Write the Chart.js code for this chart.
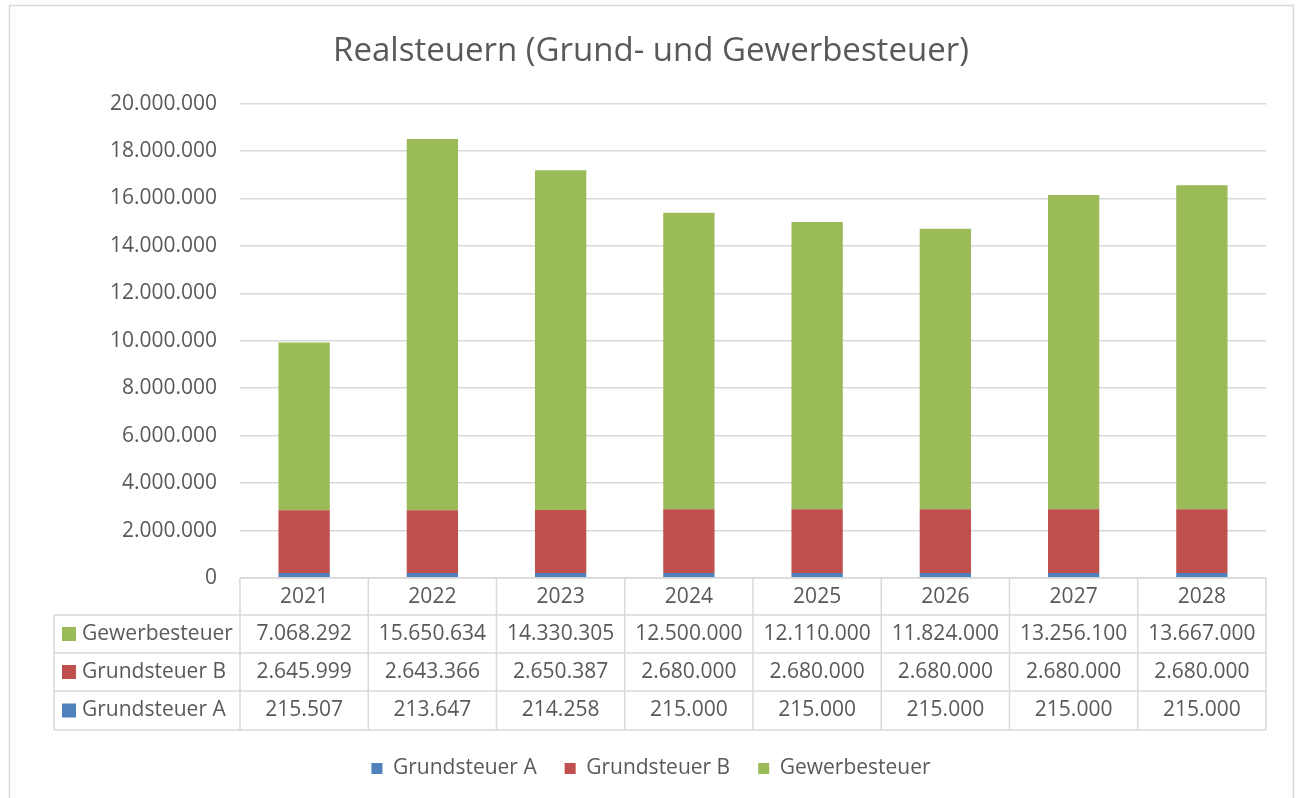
<!DOCTYPE html>
<html>
<head>
<meta charset="utf-8">
<script src="https://cdn.jsdelivr.net/npm/chart.js@4.4.1/dist/chart.umd.min.js"></script>
<style>
html,body{margin:0;padding:0;background:#fff;}
</style>
</head>
<body>
<canvas id="chart" width="1302" height="798"></canvas>
<script>
const years = ["2021","2022","2023","2024","2025","2026","2027","2028"];
const grundsteuerA = [215507,213647,214258,215000,215000,215000,215000,215000];
const grundsteuerB = [2645999,2643366,2650387,2680000,2680000,2680000,2680000,2680000];
const gewerbesteuer = [7068292,15650634,14330305,12500000,12110000,11824000,13256100,13667000];
const yMax = 20000000;
const yStep = 2000000;

const txt = "#595959";
const lineCol = "#d9d9d9";
const font = '"Open Sans", "Noto Sans", sans-serif';

function fmt(v){
  return String(Math.round(v)).replace(/\B(?=(\d{3})+(?!\d))/g,".");
}

const framePlugin = {
  id:"frame",
  beforeDraw(chart){
    const ctx = chart.ctx;
    ctx.save();
    ctx.fillStyle = "#fff";
    ctx.fillRect(0,0,chart.width,chart.height);
    ctx.strokeStyle = lineCol;
    ctx.lineWidth = 1.5;
    ctx.strokeRect(9.5,5.5,1284,800);
    ctx.restore();
  }
};

// data table under the plot, columns follow the x scale
const tablePlugin = {
  id:"dataTable",
  afterDraw(chart){
    const ctx = chart.ctx;
    const area = chart.chartArea;
    const xs = chart.scales.x;
    const colW = (area.right-area.left)/years.length;
    const labelLeft = 54;
    const rowEdges = [area.bottom, area.bottom+37, area.bottom+75, area.bottom+113, area.bottom+152];
    const rows = [
      {name:"Gewerbesteuer", color:"#9bbb59", vals:gewerbesteuer},
      {name:"Grundsteuer B", color:"#c0504d", vals:grundsteuerB},
      {name:"Grundsteuer A", color:"#4f81bd", vals:grundsteuerA}
    ];
    ctx.save();
    ctx.strokeStyle = lineCol;
    ctx.lineWidth = 1.5;
    ctx.beginPath();
    ctx.moveTo(area.left,rowEdges[0]); ctx.lineTo(area.right,rowEdges[0]);
    for(let r=1;r<rowEdges.length;r++){
      ctx.moveTo(labelLeft,rowEdges[r]); ctx.lineTo(area.right,rowEdges[r]);
    }
    ctx.moveTo(labelLeft,rowEdges[1]); ctx.lineTo(labelLeft,rowEdges[4]);
    for(let i=0;i<=years.length;i++){
      const x = area.left+i*colW;
      ctx.moveTo(x,rowEdges[0]); ctx.lineTo(x,rowEdges[4]);
    }
    ctx.stroke();

    ctx.font = "21px "+font;
    ctx.fillStyle = txt;
    ctx.textBaseline = "middle";
    ctx.textAlign = "center";
    years.forEach((y,i)=>{
      ctx.fillText(y, xs.getPixelForValue(i), (rowEdges[0]+rowEdges[1])/2+1);
    });
    rows.forEach((row,r)=>{
      const cy = (rowEdges[r+1]+rowEdges[r+2])/2;
      ctx.fillStyle = row.color;
      ctx.fillRect(62,cy-7,14,14);
      ctx.fillStyle = txt;
      ctx.textAlign = "left";
      ctx.fillText(row.name,82,cy);
      ctx.textAlign = "center";
      row.vals.forEach((v,i)=>{
        ctx.fillText(fmt(v), xs.getPixelForValue(i), cy);
      });
    });
    ctx.restore();
  }
};

const ctx = document.getElementById("chart").getContext("2d");
new Chart(ctx,{
  type:"bar",
  data:{
    labels:years,
    datasets:[
      {label:"Grundsteuer A", data:grundsteuerA, backgroundColor:"#4f81bd"},
      {label:"Grundsteuer B", data:grundsteuerB, backgroundColor:"#c0504d"},
      {label:"Gewerbesteuer", data:gewerbesteuer, backgroundColor:"#9bbb59"}
    ]
  },
  options:{
    responsive:false,
    animation:false,
    layout:{padding:{left:0,right:0,top:0,bottom:9}},
    datasets:{bar:{barPercentage:0.4,categoryPercentage:1,borderWidth:0}},
    plugins:{
      title:{
        display:true,
        text:"Realsteuern (Grund- und Gewerbesteuer)",
        color:txt,
        font:{family:font,size:33,weight:"normal"},
        padding:{top:32,bottom:32}
      },
      legend:{
        position:"bottom",
        labels:{
          color:txt,
          font:{family:font,size:21},
          boxWidth:11,
          boxHeight:11,
          padding:28
        }
      },
      tooltip:{enabled:false}
    },
    scales:{
      x:{
        stacked:true,
        grid:{display:false},
        border:{display:false},
        ticks:{display:false},
        afterFit(s){ s.height = 152; }
      },
      y:{
        stacked:true,
        min:0,
        max:yMax,
        grid:{color:lineCol,lineWidth:1.5,drawTicks:false},
        border:{display:false},
        ticks:{
          stepSize:yStep,
          padding:23,
          color:txt,
          font:{family:font,size:21},
          callback:v=>fmt(v)
        },
        afterFit(s){ s.width = 240; }
      },
      y2:{
        position:"right",
        display:true,
        grid:{display:false},
        border:{display:false},
        ticks:{display:false},
        afterFit(s){ s.width = 36; }
      }
    }
  },
  plugins:[framePlugin,tablePlugin]
});
</script>
</body>
</html>
